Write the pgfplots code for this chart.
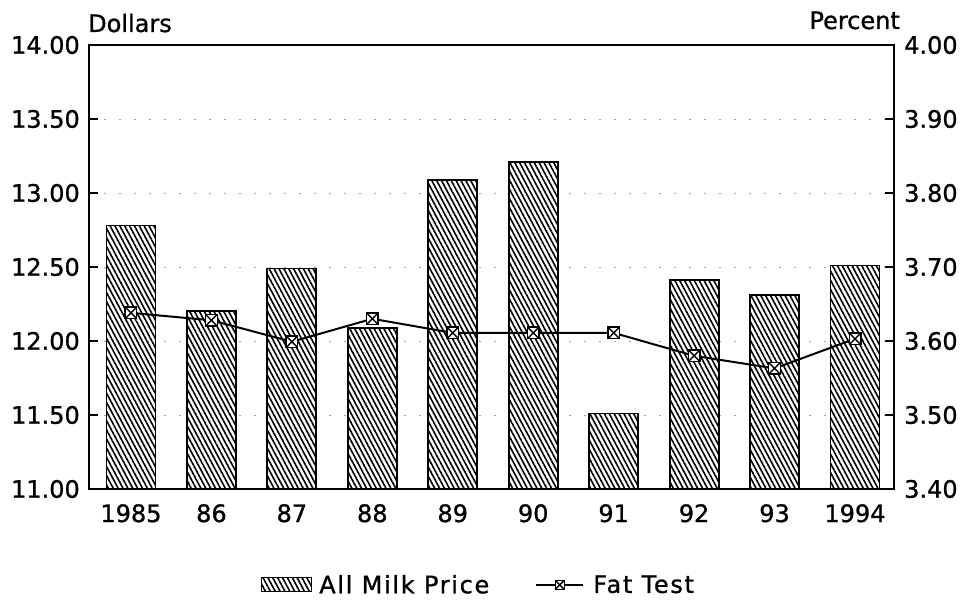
\documentclass[border=0pt]{standalone}
\usepackage{fontspec}
\setmainfont{DejaVu Sans}[FakeBold=1]
\usepackage{pgfplots}
\usepackage{pgfplotstable}
\pgfplotsset{compat=1.18}
\usetikzlibrary{patterns.meta}

\pgfdeclareplotmark{boxx}{%
  \pgfpathrectangle{\pgfpoint{-\pgfplotmarksize}{-\pgfplotmarksize}}{\pgfpoint{2\pgfplotmarksize}{2\pgfplotmarksize}}%
  \pgfusepathqfillstroke
  \pgfpathmoveto{\pgfpoint{-\pgfplotmarksize}{-\pgfplotmarksize}}\pgfpathlineto{\pgfpoint{\pgfplotmarksize}{\pgfplotmarksize}}%
  \pgfpathmoveto{\pgfpoint{-\pgfplotmarksize}{\pgfplotmarksize}}\pgfpathlineto{\pgfpoint{\pgfplotmarksize}{-\pgfplotmarksize}}%
  \pgfusepathqstroke}

\tikzset{hatch/.style={draw=black, line width=1.8pt, fill=white,
  postaction={pattern={Lines[angle=-62,distance=4.3pt,line width=1.6pt]}, pattern color=black}}}

\pgfplotsset{
  barlegend/.style={legend image code/.code={\draw[##1, line width=1pt] (0pt,-7pt) rectangle (50pt,7pt);}},
  linelegend/.style={legend image code/.code={\draw[mark repeat=2,mark phase=2,##1, mark size=4.5pt] plot coordinates {(0pt,0pt)(23.5pt,0pt)(47pt,0pt)};}},
}

\pgfplotstableread{
x milk fat
0 12.78 3.638
1 12.20 3.628
2 12.49 3.599
3 12.09 3.630
4 13.09 3.611
5 13.21 3.611
6 11.51 3.611
7 12.41 3.580
8 12.31 3.563
9 12.51 3.603
}\datatable

\begin{document}
\begin{tikzpicture}[font=\fontsize{24}{28}\selectfont]
\path[use as bounding box] (-89pt,-116pt) rectangle (877pt,489pt);
\begin{axis}[
  scale only axis, width=805pt, height=444pt,
  xmin=-0.522, xmax=9.485, ymin=11, ymax=14,
  xtick={0,...,9}, xticklabels={1985,86,87,88,89,90,91,92,93,1994},
  xtick style={draw=none},
  ytick={11,11.5,12,12.5,13,13.5,14},
  ytick pos=left, xtick pos=bottom,
  tick align=inside, major tick length=9pt,
  tick style={line width=1.2pt, black},
  axis line style={line width=1.4pt},
  ymajorgrids, grid style={gray!70, line width=0.8pt, dash pattern=on 2pt off 13pt},
  tick label style={font=\fontsize{24}{28}\selectfont},
  yticklabel style={/pgf/number format/fixed, /pgf/number format/fixed zerofill,
    /pgf/number format/precision=2, /pgf/number format/assume math mode=true,
    inner sep=0pt, xshift=-9pt},
  xticklabel style={inner sep=0pt, yshift=-6pt},
  ybar, bar width=49pt,
]
\addplot[hatch] table[x=x,y=milk]{\datatable};
\end{axis}
\begin{axis}[
  scale only axis, width=805pt, height=444pt,
  xmin=-0.522, xmax=9.485, ymin=3.4, ymax=4.0,
  xtick=\empty,
  ytick={3.4,3.5,3.6,3.7,3.8,3.9,4.0},
  ytick pos=right,
  tick align=inside, major tick length=9pt,
  tick style={line width=1.2pt, black},
  axis line style={line width=1.4pt},
  tick label style={font=\fontsize{24}{28}\selectfont},
  yticklabel style={/pgf/number format/fixed, /pgf/number format/fixed zerofill,
    /pgf/number format/precision=2, /pgf/number format/assume math mode=true,
    inner sep=0pt, xshift=10pt},
  legend style={at={(0.484,-0.216)}, anchor=center, draw=none, fill=none,
    legend columns=2,
    font=\fontsize{24}{28}\selectfont\addfontfeatures{LetterSpace=7},
    /tikz/every even column/.append style={column sep=44pt}},
  legend cell align=left,
]
\addlegendimage{hatch, barlegend}
\addlegendentry{\hspace{5pt}All Milk Price}
\addplot[black, line width=2pt, mark=boxx, mark size=5.8pt, mark options={fill=white, line width=1.4pt}, linelegend]
  table[x=x,y=fat]{\datatable};
\addlegendentry{\hspace{7pt}Fat Test}
\end{axis}
\node[anchor=base west, inner sep=0pt] at (-1pt,457pt) {Dollars};
\node[anchor=base east, inner sep=0pt] at (811pt,460pt) {Percent};
\end{tikzpicture}
\end{document}
